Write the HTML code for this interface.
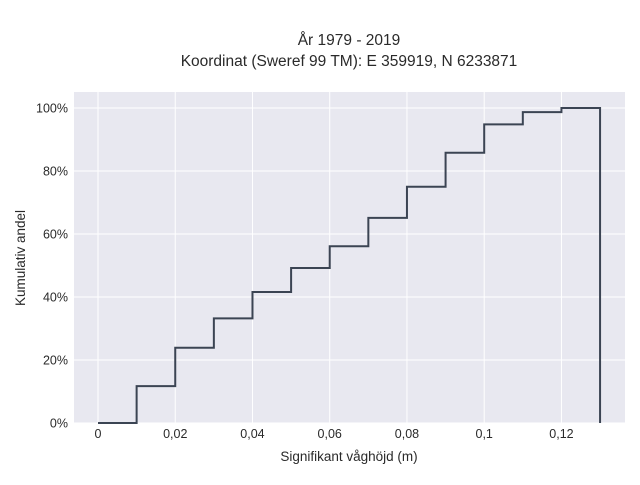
<!DOCTYPE html>
<html><head><meta charset="utf-8">
<style>
body{margin:0;background:#fff;}
svg{font-family:"Liberation Sans",sans-serif;}
</style></head>
<body>
<svg id="chart" width="640" height="480">
<rect x="0" y="0" width="640" height="480" fill="#fff"/>
<rect x="74" y="92" width="551" height="331" fill="#e8e8f0"/>
<g id="grid"></g>
<g id="xticks"></g>
<g id="yticks"></g>
<path id="step" fill="none" stroke="#3b4453" stroke-width="2"/>
<text x="349" y="45" text-anchor="middle" font-size="15.5" fill="#2a2a2a">År 1979 - 2019</text>
<text x="349" y="66" text-anchor="middle" font-size="15.5" fill="#2a2a2a">Koordinat (Sweref 99 TM): E 359919, N 6233871</text>
<text x="349" y="461" text-anchor="middle" font-size="13.5" fill="#2a2a2a">Signifikant våghöjd (m)</text>
<text transform="translate(25,258) rotate(-90)" text-anchor="middle" font-size="13.5" fill="#2a2a2a">Kumulativ andel</text>
</svg>
<script>
const binEdges=[0,0.01,0.02,0.03,0.04,0.05,0.06,0.07,0.08,0.09,0.1,0.11,0.12,0.13];
const cumShare=[0,11.7,23.9,33.2,41.6,49.2,56.1,65.1,75.0,85.8,94.8,98.7,100];
const xTickVals=[0,0.02,0.04,0.06,0.08,0.1,0.12];
const xTickLabels=["0","0,02","0,04","0,06","0,08","0,1","0,12"];
const yTickVals=[0,20,40,60,80,100];
const yTickLabels=["0%","20%","40%","60%","80%","100%"];
const X=v=>98+v*3862;
const Y=v=>423-v*3.15;
const ns="http://www.w3.org/2000/svg";
const grid=document.getElementById('grid'),xt=document.getElementById('xticks'),yt=document.getElementById('yticks');
xTickVals.forEach((v,i)=>{
  const l=document.createElementNS(ns,'line');
  l.setAttribute('x1',X(v));l.setAttribute('x2',X(v));l.setAttribute('y1',92);l.setAttribute('y2',423);
  l.setAttribute('stroke','#fff');l.setAttribute('stroke-width','1');
  
  
  grid.appendChild(l);
  const t=document.createElementNS(ns,'text');
  t.setAttribute('x',X(v));t.setAttribute('y',438);t.setAttribute('text-anchor','middle');
  t.setAttribute('font-size','12.5');t.setAttribute('fill','#2a2a2a');
  t.textContent=xTickLabels[i];
  
  
  xt.appendChild(t);
});
yTickVals.forEach((v,i)=>{
  const l=document.createElementNS(ns,'line');
  l.setAttribute('x1',74);l.setAttribute('x2',625);l.setAttribute('y1',Y(v));l.setAttribute('y2',Y(v));
  l.setAttribute('stroke','#fff');l.setAttribute('stroke-width','1');
  
  
  grid.appendChild(l);
  const t=document.createElementNS(ns,'text');
  t.setAttribute('x',68);t.setAttribute('y',Y(v)+4.5);t.setAttribute('text-anchor','end');
  t.setAttribute('font-size','12.5');t.setAttribute('fill','#2a2a2a');
  t.textContent=yTickLabels[i];
  
  
  yt.appendChild(t);
});
let d='M'+X(binEdges[0])+','+Y(cumShare[0]);
for(let i=0;i<cumShare.length;i++){
  d+=' L'+X(binEdges[i])+','+Y(cumShare[i])+' L'+X(binEdges[i+1])+','+Y(cumShare[i]);
}
d+=' L'+X(binEdges[binEdges.length-1])+','+Y(0);
document.getElementById('step').setAttribute('d',d);
</script>
</body></html>
